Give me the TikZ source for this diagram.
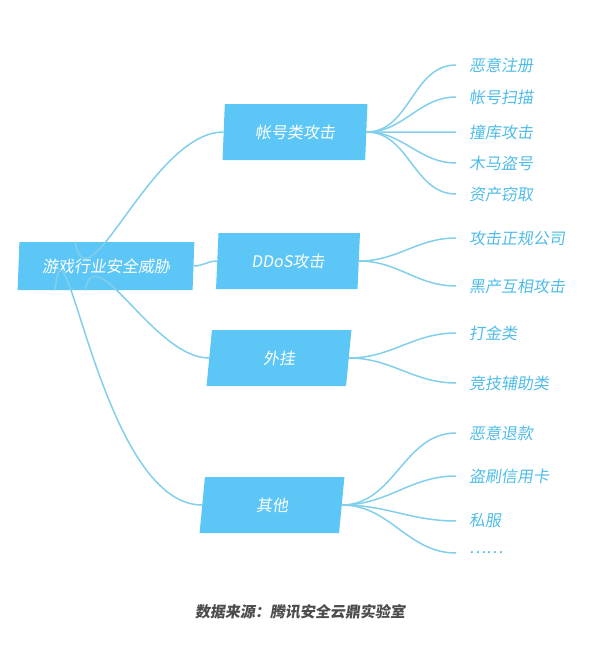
\documentclass[tikz,border=0pt]{standalone}
\usepackage{fontspec}
\newfontfamily\cjk[FakeSlant=0.15]{Noto Sans CJK SC}
\usetikzlibrary{shapes.geometric,positioning}
\definecolor{boxblue}{HTML}{5CC6F7}
\definecolor{lineblue}{HTML}{82CFEC}
\definecolor{leafblue}{HTML}{4FBCE8}
\begin{document}
\begin{tikzpicture}[x=1pt,y=-1pt,
cat/.style={trapezium,trapezium stretches=true,trapezium left angle=85,trapezium right angle=95,fill=boxblue,text=white,
  font=\cjk\fontsize{16}{18}\selectfont,minimum height=56pt,minimum width=145pt,inner sep=0pt},
leaf/.style={anchor=west,text=leafblue,font=\cjk\fontsize{16}{18}\selectfont,inner sep=1pt},
br/.style={draw=lineblue,line width=1.5pt}]
\useasboundingbox (0,0) rectangle (600,651);

\node[cat,minimum width=177pt,minimum height=48pt] (root) at (106,266) {游戏行业安全威胁};
\node[cat] (acc) at (295,132) {帐号类攻击};
\node[cat] (ddos) at (288,261) {DDoS攻击};
\node[cat] (plug) at (279,358) {外挂};
\node[cat] (other) at (272,505) {其他};

\node[leaf] (l1) at (468,65) {恶意注册};
\node[leaf] (l2) at (468,97) {帐号扫描};
\node[leaf] (l3) at (468,132) {撞库攻击};
\node[leaf] (l4) at (468,163) {木马盗号};
\node[leaf] (l5) at (468,194) {资产窃取};
\node[leaf] (l6) at (468,238) {攻击正规公司};
\node[leaf] (l7) at (468,286) {黑产互相攻击};
\node[leaf] (l8) at (468,333) {打金类};
\node[leaf] (l9) at (468,383) {竞技辅助类};
\node[leaf] (l10) at (468,433) {恶意退款};
\node[leaf] (l11) at (468,476) {盗刷信用卡};
\node[leaf] (l12) at (468,521) {私服};
\node[leaf] (l13) at (468,553) {……};

\node[text=black!70,font=\cjk\bfseries\fontsize{15}{17}\selectfont] (src) at (300,612) {数据来源：腾讯安全云鼎实验室};

% branches
\draw[br] ([xshift=-55pt]root.north east) to[out=-80,in=180] (acc.west);
\draw[br] (root.east) to[out=0,in=180] (ddos.west);
\draw[br] ([xshift=-45pt]root.south east) to[out=80,in=180] (plug.west);
\draw[br] ([xshift=-75pt]root.south east) to[out=85,in=180] (other.west);
\foreach \l in {l1,l2,l3,l4,l5}
  \draw[br] (acc.east) to[out=0,in=180] ([xshift=-12pt]\l.west);
\foreach \l in {l6,l7}
  \draw[br] (ddos.east) to[out=0,in=180] ([xshift=-12pt]\l.west);
\foreach \l in {l8,l9}
  \draw[br] (plug.east) to[out=0,in=180] ([xshift=-12pt]\l.west);
\foreach \l in {l10,l11,l12,l13}
  \draw[br] (other.east) to[out=0,in=180] ([xshift=-12pt]\l.west);
\end{tikzpicture}
\end{document}
